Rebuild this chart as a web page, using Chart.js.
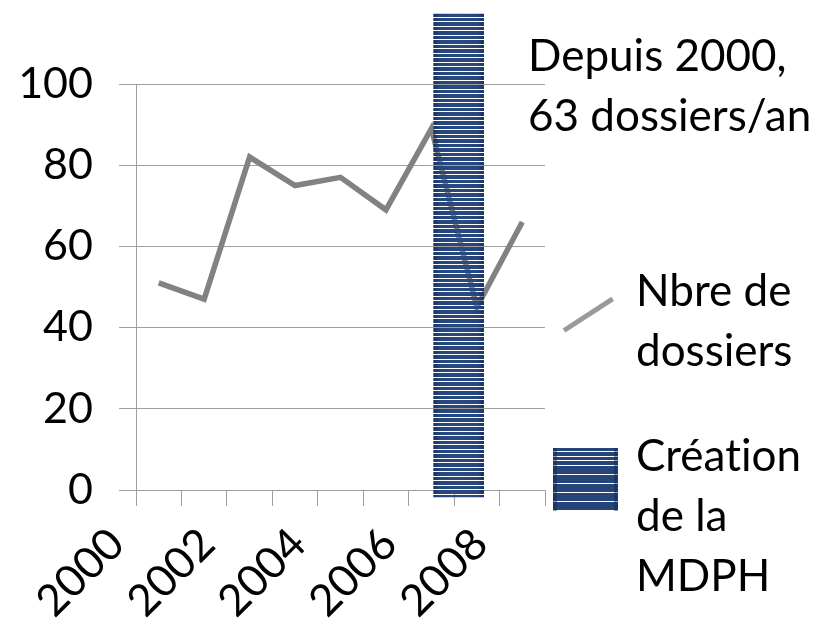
<!DOCTYPE html>
<html>
<head>
<meta charset="utf-8">
<script src="https://cdn.jsdelivr.net/npm/chart.js@4.4.1/dist/chart.umd.min.js"></script>
<style>
  html, body { margin: 0; padding: 0; background: #ffffff; }
  #wrap { position: relative; width: 818px; height: 624px; overflow: hidden; }
  canvas { position: absolute; left: 0; top: 0; }
  .txt { position: absolute; font-family: Lato, "Open Sans", sans-serif; font-size: 44px; line-height: 60px; color: #000; white-space: nowrap;
         font-variant-ligatures: none; font-feature-settings: "liga" 0, "clig" 0; }
  .swline { position: absolute; width: 58px; height: 5px; background: #9a9a9a; transform-origin: 0 50%; }
  .swbar { position: absolute; width: 65px; height: 63px;
    background: repeating-linear-gradient(to bottom, #24447a 0px, #24447a 3.5px, #ffffff 3.5px, #ffffff 4.5px);
    box-shadow: inset 4px 0 0 rgba(20,40,80,0.45), inset -4px 0 0 rgba(20,40,80,0.45); }
</style>
</head>
<body>
<div id="wrap">
  <canvas id="c" width="818" height="624"></canvas>
  <div class="txt" style="left:528px; top:24px;">Depuis 2000,<br>63 dossiers/an</div>
  <div class="swline" style="left:564px; top:328px; transform: rotate(-33deg);"></div>
  <div class="txt" style="left:636px; top:259px;">Nbre de<br>dossiers</div>
  <div class="swbar" style="left:553px; top:448px;"></div>
  <div class="txt" style="left:636px; top:424px;">Création<br>de la<br>MDPH</div>
</div>
<script>
// ---- data ----
const years = ['2000','2001','2002','2003','2004','2005','2006','2007','2008'];
const dossiers = [51, 47, 82, 75, 77, 69, 89, 45, 66];
const mdphPosition = 6.6;            // position on the year axis (category units)
const mdphRange = [-1.7, 117.2];     // vertical extent of the MDPH marker
const yTicks = [0, 20, 40, 60, 80, 100];

const FONT = 'Lato, "Open Sans", sans-serif';
const GRID = '#9e9e9e';

function makePattern(width) {
  const c = document.createElement('canvas');
  c.width = width; c.height = 9;
  const g = c.getContext('2d');
  const grad = g.createLinearGradient(0, 0, width, 0);
  grad.addColorStop(0, '#1b325e');
  grad.addColorStop(0.12, '#26467c');
  grad.addColorStop(0.5, '#2a4b82');
  grad.addColorStop(0.88, '#26467c');
  grad.addColorStop(1, '#1b325e');
  g.fillStyle = grad;
  g.fillRect(0, 0, width, 3);
  g.fillRect(0, 4, width, 4);
  return c;
}
const BAR_W = 50;
const patCanvas = makePattern(BAR_W);
const ctx0 = document.getElementById('c').getContext('2d');
const pattern = ctx0.createPattern(patCanvas, 'repeat');

const alignPattern = {
  id: 'alignPattern',
  beforeDatasetsDraw(chart) {
    const meta = chart.getDatasetMeta(0);
    const el = meta.data[0];
    if (el && pattern.setTransform) {
      pattern.setTransform(new DOMMatrix().translate(el.x - el.width / 2, 0));
    }
  }
};

new Chart(document.getElementById('c'), {
  type: 'bar',
  data: {
    labels: years,
    datasets: [
      {
        type: 'bar',
        label: 'Création de la MDPH',
        data: [{ x: mdphPosition, y: mdphRange }],
        xAxisID: 'x2',
        yAxisID: 'y',
        backgroundColor: pattern,
        borderWidth: 0,
        grouped: false,
        barThickness: BAR_W,
        maxBarThickness: BAR_W,
        clip: false
      },
      {
        type: 'line',
        label: 'Nbre de dossiers',
        data: dossiers,
        xAxisID: 'x',
        yAxisID: 'y',
        borderColor: '#828282',
        borderWidth: 5.5,
        pointRadius: 0,
        tension: 0,
        fill: false,
        borderJoinStyle: 'miter'
      }
    ]
  },
  options: {
    responsive: false,
    animation: false,
    events: [],
    layout: { padding: { top: 84, right: 273, left: 0, bottom: 0 } },
    plugins: { legend: { display: false }, tooltip: { enabled: false } },
    scales: {
      x: {
        type: 'category',
        position: 'bottom',
        offset: true,
        grid: { display: true, offset: true, drawOnChartArea: false, drawTicks: true, tickLength: 16, color: GRID, lineWidth: 1 },
        border: { display: false },
        ticks: {
          autoSkip: false,
          minRotation: 45,
          maxRotation: 45,
          labelOffset: -42,
          padding: 12,
          color: '#000',
          font: { family: FONT, size: 44 },
          callback: (v, i) => (i % 2 === 0 ? years[i] : '')
        },
        afterFit: (s) => { s.height = 134; }
      },
      x2: {
        type: 'linear',
        position: 'bottom',
        display: true,
        min: -0.5,
        max: years.length - 0.5,
        offset: false,
        bounds: 'data',
        grid: { display: false, drawTicks: false },
        border: { display: false },
        ticks: { display: false }
      },
      y: {
        type: 'linear',
        position: 'left',
        min: yTicks[0],
        max: yTicks[yTicks.length - 1],
        grid: { display: true, color: GRID, lineWidth: 1, tickLength: 17, drawTicks: true },
        border: { display: true, color: GRID, width: 1 },
        ticks: {
          stepSize: 20,
          padding: 26,
          color: '#000',
          font: { family: FONT, size: 43 }
        },
        afterBuildTicks: (s) => { s.ticks = yTicks.map(v => ({ value: v })); },
        afterFit: (s) => { s.width = 136; }
      }
    }
  },
  plugins: [alignPattern]
});
</script>
</body>
</html>
